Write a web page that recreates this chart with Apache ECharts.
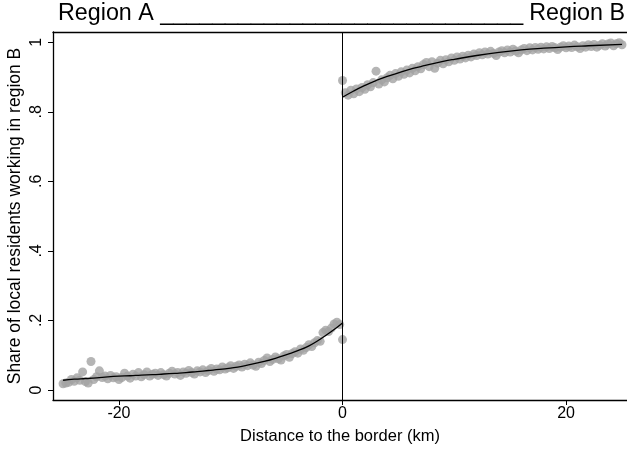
<!DOCTYPE html>
<html><head><meta charset="utf-8">
<script src="https://cdn.jsdelivr.net/npm/echarts@6/dist/echarts.min.js"></script>
<style>html,body{margin:0;padding:0;background:#fff}#c{width:627px;height:451px}</style>
</head><body><div id="c"></div>
<script>
// Binned shares, region A side (bins from -25 to -0.25 km, step 0.25), plus the bin at 0
const binStep = 0.25;
const leftStart = -25;
const leftShare = [
0.018,0.020,0.022,0.030, 0.025,0.035,0.028,0.052, 0.024,0.020,0.082,0.030, 0.038,0.055,0.036,0.040,
0.032,0.042,0.035,0.038, 0.030,0.036,0.048,0.040, 0.034,0.045,0.040,0.050, 0.038,0.044,0.052,0.040,
0.045,0.048,0.042,0.050, 0.044,0.040,0.048,0.054, 0.046,0.050,0.042,0.052, 0.048,0.056,0.050,0.046,
0.055,0.052,0.058,0.050, 0.056,0.062,0.054,0.060, 0.058,0.066,0.060,0.064, 0.070,0.062,0.068,0.072,
0.066,0.074,0.070,0.078, 0.072,0.068,0.080,0.076, 0.085,0.092,0.082,0.088, 0.095,0.090,0.086,0.098,
0.102,0.094,0.105,0.110, 0.106,0.118,0.114,0.122, 0.130,0.125,0.136,0.142, 0.140,0.165,0.172,0.168,
0.178,0.190,0.195,0.188
];
const leftBorderShare = 0.145;
// Region B side (bin at 0, then 0.25 to 25 km)
const rightBorderShare = 0.890;
const rightStart = 0.25;
const rightShare = [
0.855,0.848,0.862,0.852, 0.866,0.858,0.870,0.865, 0.878,0.872,0.884,0.917, 0.880,0.892,0.886,0.898,
0.905,0.895,0.910,0.902, 0.915,0.908,0.920,0.912, 0.925,0.918,0.930,0.924, 0.936,0.942,0.930,0.944,
0.925,0.940,0.948,0.938, 0.950,0.944,0.955,0.948, 0.958,0.952,0.960,0.955, 0.963,0.958,0.966,0.962,
0.970,0.964,0.972,0.966, 0.974,0.968,0.962,0.972, 0.976,0.970,0.978,0.972, 0.980,0.975,0.970,0.978,
0.982,0.976,0.984,0.978, 0.985,0.980,0.986,0.981, 0.987,0.982,0.988,0.984, 0.979,0.986,0.990,0.984,
0.989,0.985,0.992,0.987, 0.982,0.990,0.986,0.993, 0.988,0.994,0.986,0.991, 0.996,0.989,0.995,0.998,
0.990,0.996,0.999,0.993
];
// Fitted curves
const leftFitX = [-25,-24,-23,-22,-21,-20,-19,-18,-17,-16,-15,-14,-13,-12,-11,-10,-9,-8,-7,-6,-5,-4,-3,-2,-1,0];
const leftFitY = [0.028,0.031,0.033,0.035,0.038,0.040,0.041,0.043,0.044,0.046,0.048,0.050,0.053,0.056,0.059,0.063,0.068,0.075,0.082,0.091,0.102,0.113,0.127,0.146,0.168,0.193];
const rightFitX = [0,1,2,3,4,5,6,7,8,9,10,12,14,16,18,20,22,25];
const rightFitY = [0.842,0.860,0.876,0.890,0.902,0.912,0.922,0.930,0.938,0.945,0.951,0.962,0.971,0.978,0.983,0.987,0.990,0.994];
// Axis ticks
const xTicks = [-20, 0, 20];
const yTicks = [0, 0.2, 0.4, 0.6, 0.8, 1];
const yTickLabels = ['0', '.2', '.4', '.6', '.8', '1'];

const leftPts = leftShare.map((v, i) => [leftStart + i * binStep, v]);
leftPts.push([0, leftBorderShare]);
const rightPts = [[0, rightBorderShare]].concat(rightShare.map((v, i) => [rightStart + i * binStep, v]));
const leftFit = leftFitX.map((x, i) => [x, leftFitY[i]]);
const rightFit = rightFitX.map((x, i) => [x, rightFitY[i]]);

const FONT = 'Liberation Sans, Arial, sans-serif';
const titleStyle = {fontFamily: FONT, fontSize: 23.3, fontWeight: 'normal', color: '#000'};
const chart = echarts.init(document.getElementById('c'), null, {renderer: 'canvas'});
chart.setOption({
  animation: false,
  backgroundColor: '#fff',
  title: [{
    text: 'Region A ____________________________',
    left: 58, top: 2, padding: 0, textStyle: titleStyle
  }, {
    text: 'Region B',
    right: 2, top: 2, padding: 0, textStyle: titleStyle
  }],
  grid: {left: 53, right: 0, top: 32, bottom: 51, containLabel: false, outerBoundsMode: 'none'},
  xAxis: [{
    type: 'value', min: -25.9, max: 25.45,
    splitLine: {show: false},
    axisLine: {onZero: false, lineStyle: {color: '#000', width: 1.3}},
    axisTick: {show: true, length: 5, lineStyle: {color: '#000'}, customValues: xTicks},
    axisLabel: {color: '#000', fontFamily: FONT, fontSize: 16, margin: 6, customValues: xTicks},
    name: 'Distance to the border (km)', nameLocation: 'middle', nameGap: 28,
    nameTextStyle: {color: '#000', fontFamily: FONT, fontSize: 16.5}
  }, {
    type: 'value', min: -25.9, max: 25.45, position: 'top',
    axisLine: {show: true, onZero: false, lineStyle: {color: '#000', width: 1.3}},
    axisTick: {show: false}, axisLabel: {show: false}, splitLine: {show: false}
  }],
  yAxis: {
    type: 'value', min: -0.0288, max: 1.0296,
    splitLine: {show: false},
    axisLine: {show: true, onZero: false, lineStyle: {color: '#000', width: 1.3}},
    axisTick: {show: true, length: 5, lineStyle: {color: '#000'}, customValues: yTicks},
    axisLabel: {color: '#000', fontFamily: FONT, fontSize: 16, rotate: 90, margin: 8,
      customValues: yTicks,
      formatter: v => yTickLabels[yTicks.findIndex(t => Math.abs(t - v) < 1e-6)]},
    name: 'Share of local residents working in region B', nameLocation: 'middle', nameGap: 29,
    nameMoveOverlap: false,
    nameTextStyle: {color: '#000', fontFamily: FONT, fontSize: 17.5}
  },
  series: [
    {type: 'scatter', data: leftPts, symbolSize: 9, itemStyle: {color: '#a3a3a3'}, z: 2},
    {type: 'scatter', data: rightPts, symbolSize: 9, itemStyle: {color: '#a3a3a3'}, z: 2},
    {type: 'line', data: leftFit, smooth: true, showSymbol: false, lineStyle: {color: '#000', width: 1.3}, z: 3,
      markLine: {silent: true, symbol: 'none', label: {show: false},
        lineStyle: {color: '#000', width: 1, type: 'solid'}, data: [{xAxis: 0}]}},
    {type: 'line', data: rightFit, smooth: true, showSymbol: false, lineStyle: {color: '#000', width: 1.3}, z: 3}
  ]
});
</script>
</body></html>
